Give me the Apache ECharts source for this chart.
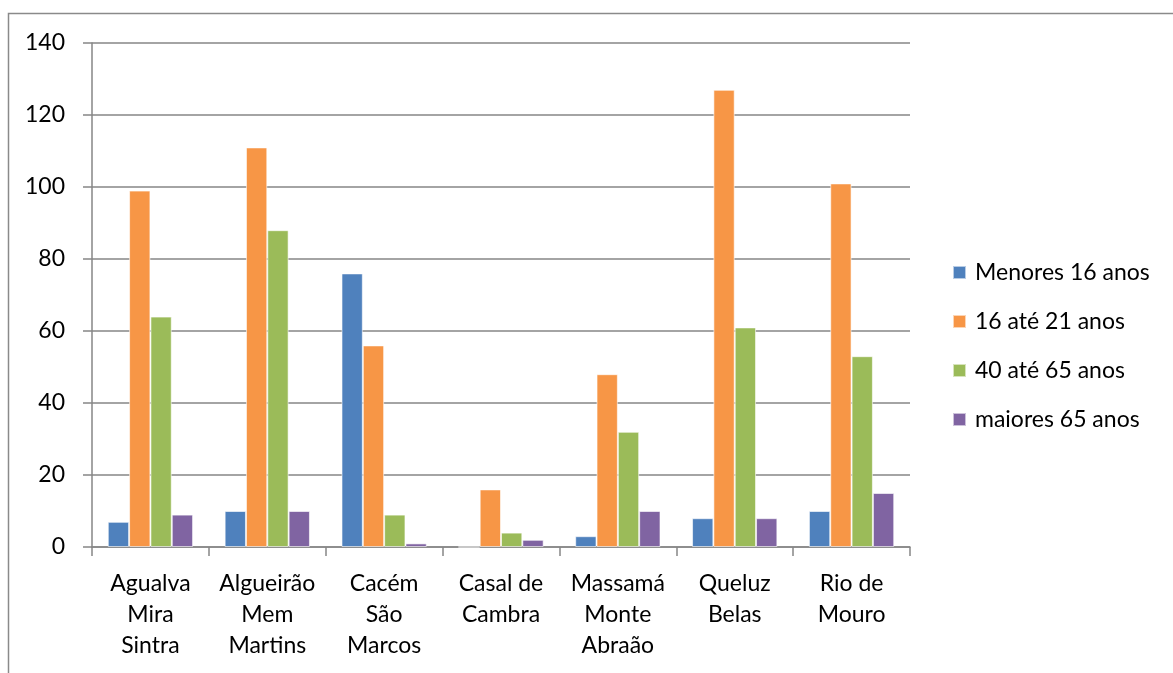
<!DOCTYPE html>
<html>
<head>
<meta charset="utf-8">
<script src="https://cdn.jsdelivr.net/npm/echarts@6/dist/echarts.min.js"></script>
<style>
  html, body { margin: 0; padding: 0; background: #fff; }
  #chart { width: 1173px; height: 673px; }
</style>
</head>
<body>
<div id="chart"></div>
<script>
// Freguesias (categories) and age-group counts
const categories = [
  'Agualva\nMira\nSintra',
  'Algueirão\nMem\nMartins',
  'Cacém\nSão\nMarcos',
  'Casal de\nCambra',
  'Massamá\nMonte\nAbraão',
  'Queluz\nBelas',
  'Rio de\nMouro'
];
const seriesNames = ['Menores 16 anos', '16 até 21 anos', '40 até 65 anos', 'maiores 65 anos'];
const menores16 = [7, 10, 76, 0, 3, 8, 10];
const de16a21   = [99, 111, 56, 16, 48, 127, 101];
const de40a65   = [64, 88, 9, 4, 32, 61, 53];
const maiores65 = [9, 10, 1, 2, 10, 8, 15];
const colors = ['#4F81BD', '#F79646', '#9BBB59', '#8064A2'];

const FONT = 'Lato, "Open Sans", sans-serif';
const FONT_SIZE = 23;
const AXIS_GRAY = '#868686';

const chart = echarts.init(document.getElementById('chart'), null, { renderer: 'canvas' });

const dataSets = [menores16, de16a21, de40a65, maiores65];

chart.setOption({
  animation: false,
  backgroundColor: '#ffffff',
  color: colors,
  graphic: [{
    type: 'rect',
    shape: { x: 8.5, y: 13.5, width: 1300, height: 800 },
    style: { fill: 'none', stroke: '#8a8a8a', lineWidth: 1.5 },
    silent: true,
    z: -1
  }],
  grid: { left: 92, right: 263, top: 43, bottom: 126, containLabel: false },
  legend: {
    orient: 'vertical',
    left: 952,
    top: 259,
    padding: 0,
    itemWidth: 13,
    itemHeight: 13,
    itemGap: 22,
    icon: 'rect',
    data: seriesNames,
    textStyle: { fontFamily: FONT, fontSize: FONT_SIZE, color: '#000', padding: [0, 0, 0, 4], lineHeight: 27 }
  },
  xAxis: {
    type: 'category',
    data: categories,
    axisLine: { show: true, lineStyle: { color: AXIS_GRAY, width: 1.5 } },
    axisTick: { show: true, length: 9, lineStyle: { color: AXIS_GRAY, width: 1.5 } },
    axisLabel: {
      fontFamily: FONT, fontSize: FONT_SIZE, color: '#000',
      lineHeight: 31, margin: 21, interval: 0
    }
  },
  yAxis: {
    type: 'value',
    min: 0, max: 140, interval: 20,
    axisLine: { show: true, lineStyle: { color: AXIS_GRAY, width: 1.5 } },
    axisTick: { show: true, length: 9, lineStyle: { color: AXIS_GRAY, width: 1.5 } },
    splitLine: { show: true, lineStyle: { color: AXIS_GRAY, width: 1.5 } },
    axisLabel: { fontFamily: FONT, fontSize: FONT_SIZE, color: '#000', margin: 27 }
  },
  series: seriesNames.map((name, i) => ({
    name: name,
    type: 'bar',
    data: dataSets[i],
    barGap: '0%',
    barCategoryGap: '27%',
    itemStyle: { color: colors[i], borderColor: 'rgba(255,255,255,0.6)', borderWidth: 1 }
  }))
});
</script>
</body>
</html>
